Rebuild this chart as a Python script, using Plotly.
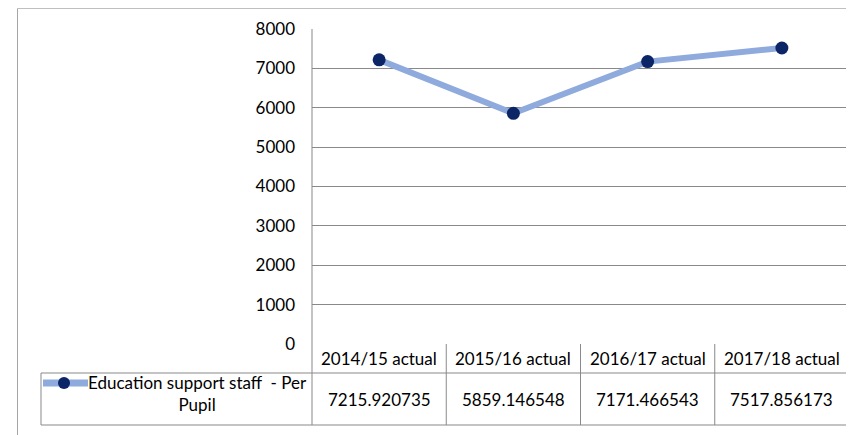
import plotly.graph_objects as go

categories = ["2014/15 actual", "2015/16 actual", "2016/17 actual", "2017/18 actual"]
values = [7215.920735, 5859.146548, 7171.466543, 7517.856173]
series_name = "Education support staff\u00a0 - Per<br>Pupil"
y_ticks = [0, 1000, 2000, 3000, 4000, 5000, 6000, 7000, 8000]

# page has an 8px body margin; work in page pixels and shift
OFF = 8
W, H = 854 - OFF, 435 - OFF
PL, PR, PT, PB = 312, 849, 29, 344  # plot area in page pixels
pw, ph = PR - PL, PB - PT

def px(x):
    return (x - PL) / pw

def py(y):
    return (PB - y) / ph

LINE_C = "#8FAADC"
MARK_C = "#0B2566"
GRID_C = "#898989"
FONT = "Lato"
FS = 17

fig = go.Figure()
fig.add_trace(go.Scatter(
    x=categories, y=values, mode="lines+markers",
    line=dict(color=LINE_C, width=6),
    marker=dict(color=MARK_C, size=13),
    showlegend=False, hoverinfo="skip",
))

shapes = []
def hline(y, x0, x1, color=GRID_C):
    shapes.append(dict(type="line", xref="paper", yref="paper", x0=px(x0), x1=px(x1),
                       y0=py(y), y1=py(y), line=dict(color=color, width=1)))
def vline(x, y0, y1, color=GRID_C):
    shapes.append(dict(type="line", xref="paper", yref="paper", x0=px(x), x1=px(x),
                       y0=py(y0), y1=py(y1), line=dict(color=color, width=1)))

# outer chart border
hline(8.5, 17.5, 849, "#BFBFBF")
vline(17.5, 8.5, 440, "#A6A6A6")
vline(849, 8.5, 440, GRID_C)
# plot / table lines
vline(312, 29, 425)
hline(373, 41, 849)
hline(425, 41, 849)
vline(41, 373, 425)
col_w = pw / len(categories)
for i in range(1, len(categories)):
    vline(PL + i * col_w, 344, 425)

# legend key
hline(383, 43, 88, LINE_C)
shapes[-1]["line"]["width"] = 7
r = 6
shapes.append(dict(type="circle", xref="paper", yref="paper",
                   x0=px(64 - r), x1=px(64 + r), y0=py(383 + r), y1=py(383 - r),
                   fillcolor=MARK_C, line=dict(color=MARK_C, width=0)))

annotations = []
for i, (c, v) in enumerate(zip(categories, values)):
    cx = PL + (i + 0.5) * col_w
    annotations.append(dict(x=px(cx), y=py(358.5), xref="paper", yref="paper",
                            text=c, showarrow=False, xanchor="center", yanchor="middle",
                            font=dict(family=FONT, size=FS, color="#000")))
    annotations.append(dict(x=px(cx), y=py(399), xref="paper", yref="paper",
                            text=f"{v:.6f}", showarrow=False, xanchor="center", yanchor="middle",
                            font=dict(family=FONT, size=FS, color="#000")))
annotations.append(dict(x=px(197), y=py(394), xref="paper", yref="paper",
                        text=series_name, showarrow=False, xanchor="center", yanchor="middle",
                        align="center", font=dict(family=FONT, size=FS, color="#000")))

fig.update_layout(
    width=W, height=H,
    margin=dict(l=PL - OFF, r=854 - PR, t=PT - OFF, b=435 - PB, pad=0),
    paper_bgcolor="white", plot_bgcolor="white",
    xaxis=dict(type="category", range=[-0.5, len(categories) - 0.5], showgrid=False,
               showticklabels=False, zeroline=False, showline=False, fixedrange=True),
    yaxis=dict(range=[0, 8000], tickvals=y_ticks, showgrid=True, gridcolor=GRID_C, gridwidth=1,
               zeroline=False, showline=False, ticks="", ticklabelstandoff=16,
               tickfont=dict(family=FONT, size=FS, color="#000"), fixedrange=True),
    shapes=shapes, annotations=annotations,
    font=dict(family=FONT),
)

fig.write_html("out.html")
